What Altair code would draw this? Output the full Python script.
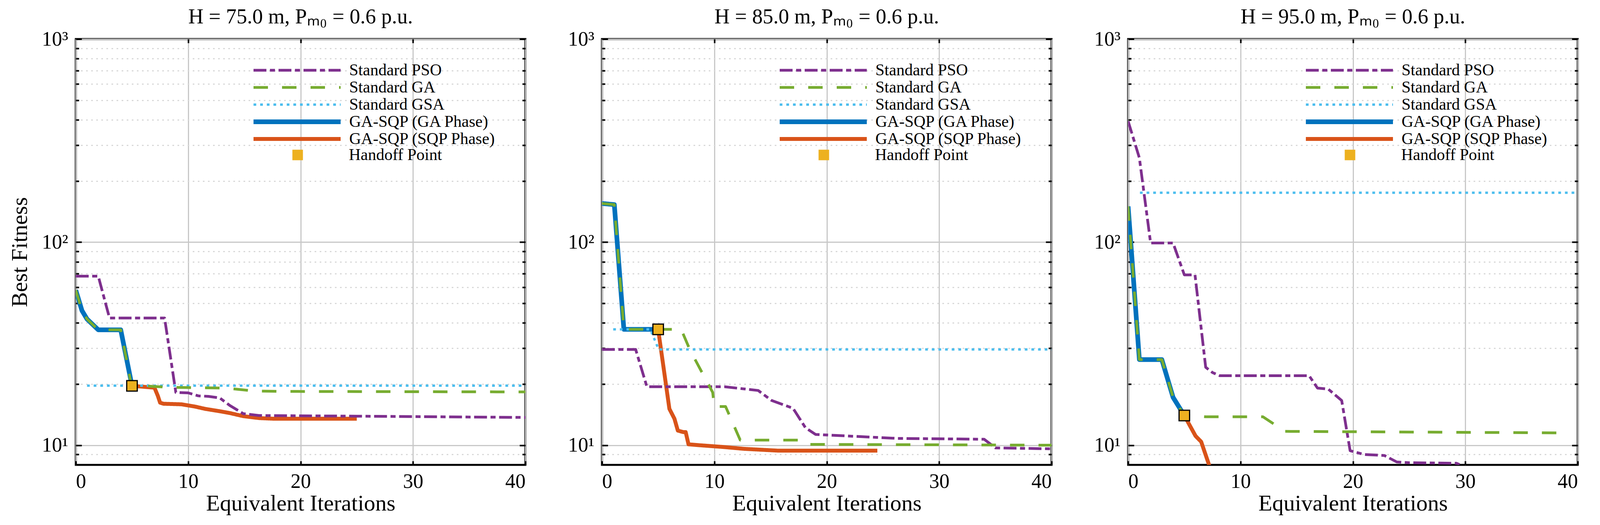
import altair as alt
import pandas as pd

FONT = "Liberation Serif"

SERIES = ["Standard PSO", "Standard GA", "Standard GSA", "GA-SQP (GA Phase)", "GA-SQP (SQP Phase)"]
COLORS = ["#7E2F8E", "#77AC30", "#4DBEEE", "#0072BD", "#D95319"]
DASHES = [[33, 9, 13, 9], [37, 36], [7, 10], [1, 0], [1, 0]]
WIDTHS = [7, 7, 6, 12, 10]
HANDOFF_LABEL = "Handoff Point"

TITLES = ["H = 75.0 m, Pₘ₀ = 0.6 p.u.", "H = 85.0 m, Pₘ₀ = 0.6 p.u.", "H = 95.0 m, Pₘ₀ = 0.6 p.u."]

X_TICKS = [0, 10, 20, 30, 40]
Y_MAJOR = [10, 100, 1000]
Y_MINOR = [9, 20, 30, 40, 50, 60, 70, 80, 90, 200, 300, 400, 500, 600, 700, 800, 900]

# ---------------- Panel 1: H = 75 m ----------------
p1_pso_x = [0, 2.0, 3.0, 7.9, 8.9, 10.0, 10.9, 11.8, 12.8, 13.7, 14.9, 16.3, 25.0, 40.0]
p1_pso_y = [68, 68, 42.3, 42.3, 18.2, 18.1, 17.5, 17.4, 17.1, 15.7, 14.3, 14.0, 13.9, 13.7]
p1_ga_x = [0, 0.55, 1.0, 2.0, 4.0, 4.95, 6.0, 8.1, 10.75, 13.4, 15.85, 18.5, 40.0]
p1_ga_y = [58, 46, 41.8, 37, 37, 19.7, 19.6, 19.3, 19.2, 19.1, 18.5, 18.4, 18.3]
p1_gsa_x = [1.0, 40.0]
p1_gsa_y = [19.65, 19.65]
p1_gaph_x = [0, 0.55, 1.0, 2.0, 4.0, 5.0]
p1_gaph_y = [58, 46, 41.8, 37, 37, 19.6]
p1_sqp_x = [5.0, 7.0, 7.3, 7.5, 7.8, 9.4, 10.6, 11.5, 12.8, 13.7, 14.9, 16.3, 17.6, 25.0]
p1_sqp_y = [19.6, 19.2, 17.5, 16.2, 16.0, 15.9, 15.5, 15.1, 14.7, 14.4, 13.9, 13.6, 13.5, 13.5]
p1_hand = (5.0, 19.6)

# ---------------- Panel 2: H = 85 m ----------------
p2_pso_x = [0, 3.0, 4.0, 10.9, 13.9, 15.1, 17.0, 18.1, 19.0, 26.3, 34.0, 35.0, 40.0]
p2_pso_y = [29.6, 29.6, 19.4, 19.4, 18.6, 16.6, 15.2, 12.2, 11.3, 10.8, 10.7, 9.7, 9.6]
p2_ga_x = [0, 1.1, 1.95, 7.05, 7.85, 9.85, 10.0, 11.0, 12.3, 17.6, 18.1, 40.0]
p2_ga_y = [155, 153, 37.2, 37.2, 29.3, 18.2, 15.5, 15.5, 10.6, 10.6, 10.1, 10.0]
p2_gsa_x = [1.0, 4.3, 5.05, 40.0]
p2_gsa_y = [37.2, 37.2, 29.6, 29.6]
p2_gaph_x = [0, 1.1, 1.95, 5.0]
p2_gaph_y = [155, 153, 37.2, 37.2]
p2_sqp_x = [5.0, 6.0, 6.45, 6.75, 7.25, 7.45, 7.7, 8.65, 10.8, 12.6, 15.7, 24.5]
p2_sqp_y = [37.2, 15.1, 13.5, 11.8, 11.6, 11.6, 10.1, 10.0, 9.8, 9.6, 9.4, 9.4]
p2_hand = (5.0, 37.2)

# ---------------- Panel 3: H = 95 m ----------------
p3_pso_x = [0, 1.0, 2.0, 4.0, 5.0, 5.95, 6.9, 7.5, 8.15, 16.1, 16.85, 17.8, 19.0, 19.75, 21.0, 22.8, 23.9, 25.0, 29.2, 30.0]
p3_pso_y = [394, 260, 99, 99, 69, 69, 24.2, 22.8, 22.0, 22.0, 19.1, 18.9, 16.6, 9.4, 9.0, 8.9, 8.27, 8.2, 8.15, 7.8]
p3_ga_x = [0, 1.0, 3.0, 4.0, 4.95, 6.9, 12.0, 13.95, 38.7, 38.9]
p3_ga_y = [150, 26.4, 26.4, 17.2, 14.1, 13.8, 13.8, 11.7, 11.5, 11.3]
p3_gsa_x = [1.05, 40.0]
p3_gsa_y = [175, 175]
p3_gaph_x = [0, 1.0, 3.0, 4.0, 5.0]
p3_gaph_y = [150, 26.4, 26.4, 17.2, 14.0]
p3_sqp_x = [5.0, 6.0, 6.5, 7.2, 7.6]
p3_sqp_y = [14.0, 11.1, 10.4, 8.0, 7.0]
p3_hand = (5.0, 14.0)

PANELS = [
    (TITLES[0], [(p1_pso_x, p1_pso_y), (p1_ga_x, p1_ga_y), (p1_gsa_x, p1_gsa_y), (p1_gaph_x, p1_gaph_y), (p1_sqp_x, p1_sqp_y)], p1_hand),
    (TITLES[1], [(p2_pso_x, p2_pso_y), (p2_ga_x, p2_ga_y), (p2_gsa_x, p2_gsa_y), (p2_gaph_x, p2_gaph_y), (p2_sqp_x, p2_sqp_y)], p2_hand),
    (TITLES[2], [(p3_pso_x, p3_pso_y), (p3_ga_x, p3_ga_y), (p3_gsa_x, p3_gsa_y), (p3_gaph_x, p3_gaph_y), (p3_sqp_x, p3_sqp_y)], p3_hand),
]

W, H = 1151, 1091

# draw order: GA phase, SQP phase, PSO, GSA, GA (GA dashed on top of GA phase)
DRAW_ORDER = [3, 4, 0, 2, 1]

LABEL_EXPR = "datum.value == 1000 ? '10³' : datum.value == 100 ? '10²' : datum.value == 10 ? '10¹' : ''"


def make_axes(k, first):
    if k == 0:
        xa = alt.Axis(orient="bottom", values=X_TICKS, grid=True, gridColor="#c8c8c8", gridWidth=3,
                      ticks=True, tickSize=10, offset=-10, labelPadding=17, domain=False,
                      title="Equivalent Iterations", titlePadding=2)
        ya = alt.Axis(orient="left", values=Y_MAJOR, grid=True, gridColor="#c8c8c8", gridWidth=3,
                      ticks=True, tickSize=15, offset=-15, labelPadding=20, domain=False,
                      labelExpr=LABEL_EXPR, title="Best Fitness" if first else None, titlePadding=26)
    elif k == 1:
        xa = alt.Axis(orient="top", values=[10, 20, 30], grid=False, ticks=True, tickSize=10,
                      offset=-10, labels=False, domain=False, title=None)
        ya = alt.Axis(orient="left", values=Y_MINOR, grid=True, gridColor="#d6d6d6", gridWidth=3,
                      gridDash=[4, 9], ticks=True, tickSize=8, offset=-8, labels=False,
                      domain=False, title=None)
    elif k == 2:
        xa = None
        ya = alt.Axis(orient="right", values=Y_MAJOR, grid=False, ticks=True, tickSize=15,
                      offset=-15, labels=False, domain=False, title=None)
    elif k == 3:
        xa = None
        ya = alt.Axis(orient="right", values=Y_MINOR, grid=False, ticks=True, tickSize=8,
                      offset=-8, labels=False, domain=False, title=None)
    else:
        xa = None
        ya = None
    return xa, ya


def panel(title, series_data, hand, first):
    xs = alt.Scale(domain=[0, 40], nice=False)
    ys = alt.Scale(type="log", domain=[8, 1000], nice=False)
    line_legend = alt.Legend(title=None, orient="none", legendX=449, legendY=58,
                             symbolType="stroke", symbolSize=223 * 223, clipHeight=44,
                             rowPadding=0, padding=0, symbolOffset=0,
                             labelFont=FONT, labelFontSize=42, labelOffset=16,
                             labelLimit=1000, labelColor="black")
    hand_legend = alt.Legend(title=None, orient="none", legendX=547, legendY=275,
                             symbolType="square", symbolSize=729, symbolFillColor="#EDB120",
                             symbolStrokeColor="black", symbolStrokeWidth=3, clipHeight=44,
                             padding=0, symbolOffset=0, labelFont=FONT, labelFontSize=42,
                             labelOffset=110, labelLimit=1000, labelColor="black")
    layers = []
    for k, si in enumerate(DRAW_ORDER):
        xv, yv = series_data[si]
        df = pd.DataFrame({"series": SERIES[si], "x": xv, "y": yv, "i": list(range(len(xv)))})
        xa, ya = make_axes(k, first)
        layers.append(
            alt.Chart(df).mark_line(clip=True, strokeCap="butt", strokeJoin="round").encode(
                x=alt.X("x:Q", scale=xs, axis=xa),
                y=alt.Y("y:Q", scale=ys, axis=ya),
                color=alt.Color("series:N", scale=alt.Scale(domain=SERIES, range=COLORS), legend=line_legend),
                strokeDash=alt.StrokeDash("series:N", scale=alt.Scale(domain=SERIES, range=DASHES), legend=line_legend),
                strokeWidth=alt.StrokeWidth("series:N", scale=alt.Scale(type="ordinal", domain=SERIES, range=WIDTHS), legend=line_legend),
                order="i:Q",
            )
        )
    hdf = pd.DataFrame({"lab": [HANDOFF_LABEL], "x": [hand[0]], "y": [hand[1]]})
    layers.append(
        alt.Chart(hdf).mark_point(shape="square", filled=True, size=729, fill="#EDB120",
                                  stroke="black", strokeWidth=3, opacity=1).encode(
            x=alt.X("x:Q", scale=xs, axis=None),
            y=alt.Y("y:Q", scale=ys, axis=None),
            shape=alt.Shape("lab:N", scale=alt.Scale(domain=[HANDOFF_LABEL], range=["square"]), legend=hand_legend),
        )
    )
    return alt.layer(*layers).resolve_axis(x="independent", y="independent").properties(
        width=W, height=H,
        title=alt.TitleParams(text=title, font=FONT, fontSize=54, fontWeight="normal",
                              color="black", offset=-40, anchor="middle", frame="group",
                              baseline="alphabetic"),
    )


charts = [panel(t, s, h, i == 0) for i, (t, s, h) in enumerate(PANELS)]

chart = alt.hconcat(*charts, spacing=196, bounds="flush").resolve_scale(
    color="independent", strokeDash="independent", strokeWidth="independent", shape="independent"
).resolve_legend(
    color="independent", strokeDash="independent", strokeWidth="independent", shape="independent"
).properties(
    padding={"left": 11, "top": 6, "right": 5, "bottom": 5},
    background="white",
).configure_view(
    stroke="black", strokeWidth=5
).configure_axis(
    labelFont=FONT, labelFontSize=52, labelColor="black",
    titleFont=FONT, titleFontSize=58, titleFontWeight="normal", titleColor="black",
    tickColor="black", tickWidth=4,
)

chart.save("out.html", embed_options={"renderer": "svg", "actions": False})
